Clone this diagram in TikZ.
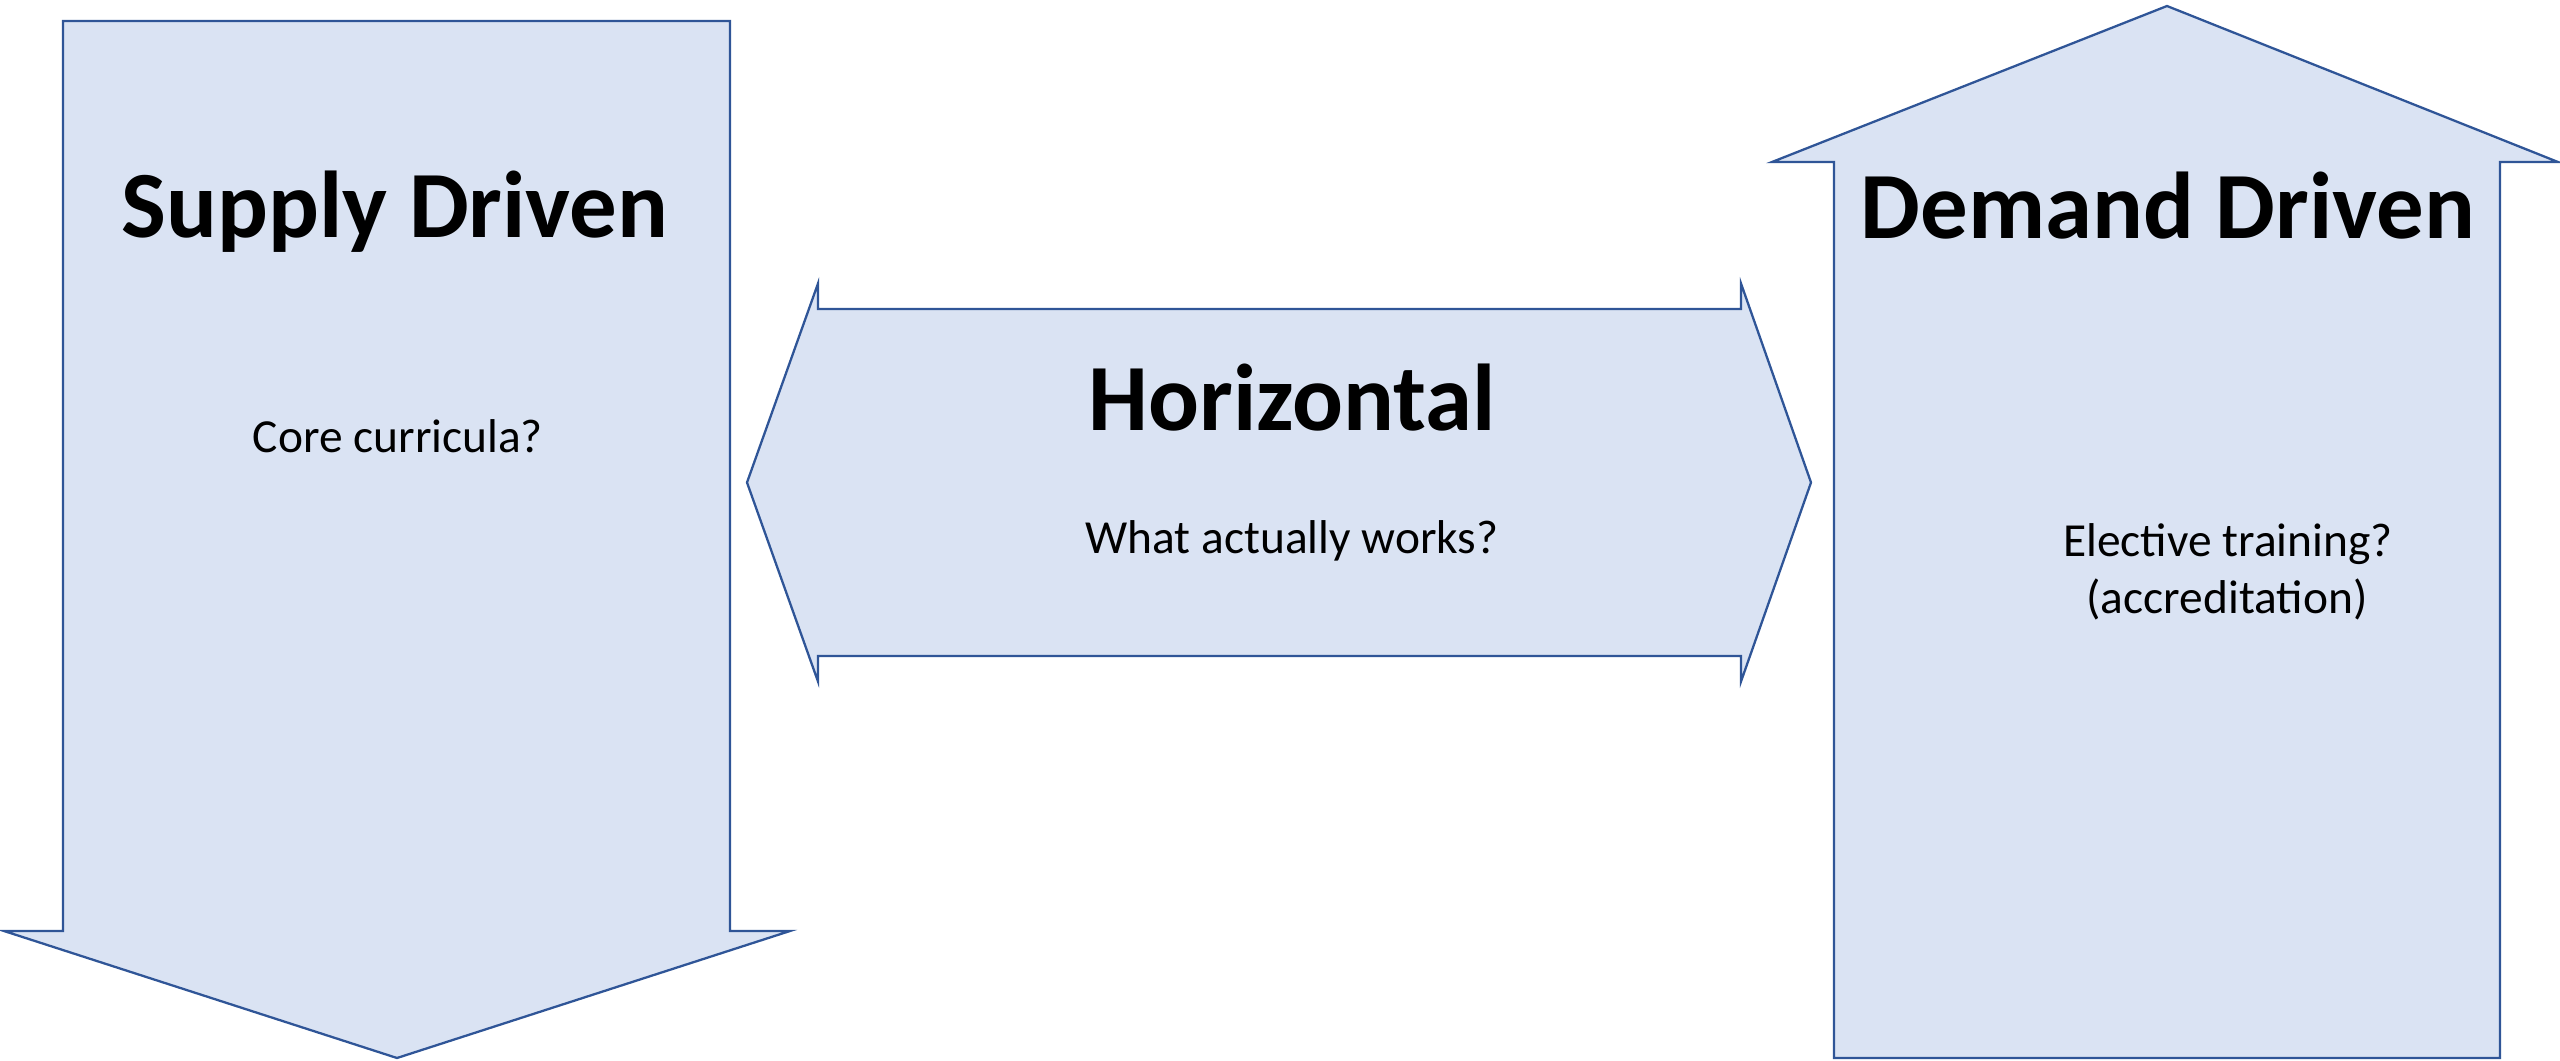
\documentclass[tikz,border=0pt]{standalone}
\usepackage{fontspec}
\setmainfont{Carlito}
\definecolor{edgeblue}{HTML}{2F5597}
\definecolor{fillblue}{HTML}{DAE3F3}
\tikzset{
  shapearrow/.style={draw=edgeblue, fill=fillblue, line width=1.3pt, line join=miter},
  titletext/.style={inner sep=0pt, anchor=base, font=\fontsize{54}{65}\selectfont\bfseries},
  bodytext/.style={inner sep=0pt, anchor=base, font=\fontsize{27}{32.4}\selectfont, align=center}
}
\begin{document}
\begin{tikzpicture}[x=0.02cm, y=-0.02cm]
\useasboundingbox (0,0) rectangle (2560,1061);
% Supply driven (down arrow)
\draw[shapearrow] (63,21) -- (730,21) -- (730,931) -- (790,931) -- (397,1058)
  -- (4,931) -- (63,931) -- cycle;
% Horizontal (double arrow)
\draw[shapearrow] (747,482.5) -- (818,283.5) -- (818,309) -- (1741,309) -- (1741,283.5)
  -- (1811,482.5) -- (1741,681.5) -- (1741,656) -- (818,656) -- (818,681.5) -- cycle;
% Demand driven (up arrow)
\draw[shapearrow] (2167,6) -- (2558,162) -- (2500,162) -- (2500,1058) -- (1834,1058)
  -- (1834,162) -- (1772,162) -- cycle;
% Texts
\node[titletext] (supplytitle) at (395,237) {Supply Driven};
\node[bodytext] (supplybody) at (398,452) {Core curricula?};
\node[titletext] (horiztitle) at (1292,430) {Horizontal};
\node[bodytext] (horizbody) at (1292,553) {What actually works?};
\node[titletext] (demandtitle) at (2168,238) {Demand Driven};
\node[bodytext] (demandbody1) at (2228,556) {Elective training?};
\node[bodytext] (demandbody2) at (2227,613) {(accreditation)};
\end{tikzpicture}
\end{document}
